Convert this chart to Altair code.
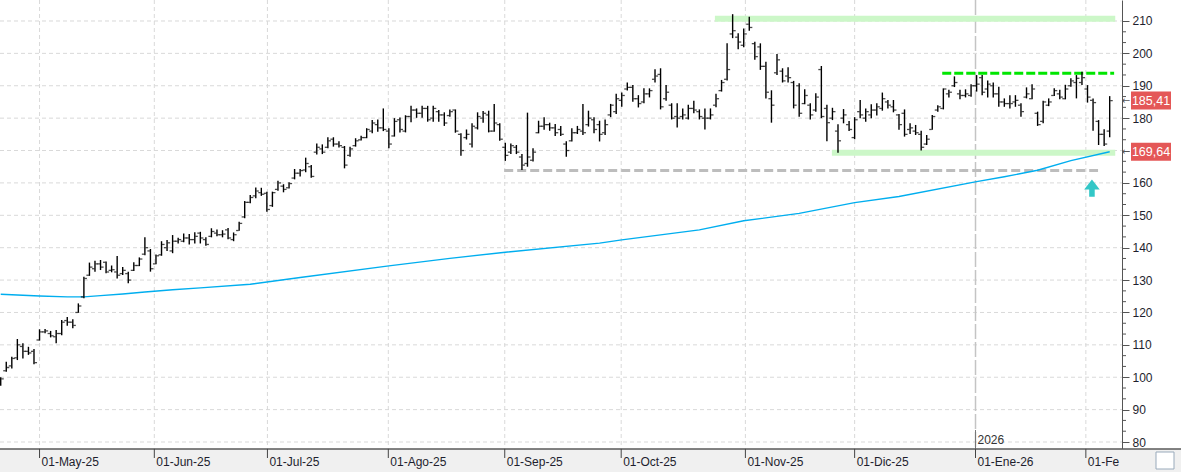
import altair as alt
import pandas as pd

# ---------------- data ----------------
highs = [100.0, 104.8, 106.3, 111.8, 110.5, 109.4, 108.7, 114.8, 114.9, 114.3,
         114.6, 117.7, 118.6, 117.9, 122.8, 131.0, 135.4, 136.0, 136.2, 135.7,
         134.5, 137.4, 134.0, 132.6, 135.5, 137.0, 143.2, 139.6, 137.9, 142.0,
         142.4, 143.9, 143.1, 144.4, 144.2, 144.8, 144.9, 143.2, 146.0, 145.6,
         145.4, 146.1, 144.7, 148.0, 154.4, 156.3, 158.6, 158.5, 157.3, 157.3,
         160.7, 159.6, 160.2, 164.3, 164.3, 167.8, 165.5, 172.2, 171.9, 174.1,
         174.1, 172.9, 171.4, 171.2, 173.8, 174.6, 176.9, 179.4, 179.6, 183.0,
         176.9, 180.0, 180.2, 180.9, 183.8, 183.0, 183.8, 183.8, 183.8, 182.5,
         181.8, 182.7, 182.7, 175.3, 176.5, 178.4, 181.8, 182.2, 182.3, 184.4,
         178.4, 172.4, 172.2, 171.7, 168.9, 181.7, 170.7, 179.2, 180.3, 178.6,
         178.2, 177.6, 172.9, 176.9, 177.6, 184.4, 182.3, 180.3, 179.2, 179.6,
         184.4, 187.5, 187.9, 191.0, 190.2, 187.1, 189.2, 189.2, 195.1, 195.4,
         190.2, 184.6, 184.6, 183.0, 184.1, 185.4, 182.7, 183.0, 183.0, 187.5,
         191.8, 203.1, 212.1, 206.2, 207.7, 211.3, 203.6, 203.1, 197.4, 188.6,
         199.8, 195.4, 195.7, 191.5, 190.8, 188.9, 184.6, 187.7, 196.1, 184.1,
         183.2, 178.1, 182.8, 179.1, 180.3, 185.6, 183.0, 184.3, 184.6, 187.9,
         185.6, 185.6, 181.3, 182.7, 178.4, 177.9, 176.1, 174.8, 181.0, 184.0,
         189.2, 188.8, 192.9, 188.8, 188.9, 190.5, 193.3, 193.3, 191.6, 191.0,
         189.7, 186.1, 187.1, 187.1, 184.6, 189.5, 190.5, 182.0, 185.4, 186.1,
         189.2, 188.8, 190.3, 192.3, 193.3, 194.3, 190.2, 186.1, 179.4, 176.6,
         186.8]
lows = [97.4, 101.7, 102.7, 105.3, 105.8, 106.9, 104.0, 111.3, 113.6, 112.3,
        110.5, 113.0, 115.9, 115.1, 119.9, 124.4, 131.3, 132.6, 133.1, 132.1,
        132.4, 130.5, 131.6, 129.0, 132.8, 134.3, 137.7, 132.6, 134.9, 137.5,
        139.0, 138.3, 141.3, 141.7, 141.0, 141.3, 141.3, 140.6, 143.2, 143.5,
        143.2, 142.6, 142.0, 145.2, 149.1, 153.7, 155.3, 156.0, 151.1, 152.6,
        157.6, 157.1, 158.3, 161.1, 162.0, 163.3, 161.6, 168.8, 168.9, 170.7,
        171.2, 170.9, 164.5, 168.1, 171.2, 173.1, 173.8, 175.3, 175.8, 176.0,
        170.7, 174.3, 175.6, 175.6, 178.7, 180.1, 180.1, 178.9, 178.9, 178.9,
        177.6, 180.4, 175.5, 168.4, 173.4, 170.9, 176.5, 178.6, 175.6, 175.8,
        173.0, 166.8, 168.9, 168.9, 164.0, 165.0, 166.6, 175.3, 176.4, 176.1,
        174.5, 174.5, 168.1, 172.8, 175.1, 174.8, 177.4, 175.3, 172.8, 174.8,
        180.3, 181.3, 183.5, 188.5, 185.1, 183.3, 184.6, 186.4, 191.0, 182.7,
        185.4, 179.6, 177.1, 179.6, 179.6, 181.5, 179.6, 176.5, 179.6, 183.4,
        188.2, 191.6, 204.7, 201.3, 201.9, 207.0, 198.0, 194.9, 186.1, 178.6,
        193.3, 191.0, 191.0, 183.0, 180.4, 184.3, 179.6, 182.0, 180.0, 172.9,
        179.4, 169.3, 178.4, 176.0, 173.5, 180.0, 178.9, 180.0, 180.8, 182.3,
        183.0, 181.8, 176.4, 174.3, 175.1, 174.8, 170.0, 171.7, 176.4, 182.0,
        182.7, 186.4, 189.6, 185.8, 186.4, 186.6, 188.2, 187.1, 186.4, 186.4,
        183.5, 183.5, 183.0, 183.5, 180.4, 186.1, 185.8, 177.6, 178.4, 183.7,
        186.8, 185.8, 185.8, 189.7, 186.1, 190.2, 184.8, 176.1, 171.7, 171.4,
        174.1]
opens = [98.0, 102.0, 103.5, 106.0, 109.5, 108.0, 108.0, 111.5, 114.0, 113.5,
         112.5, 113.5, 117.5, 117.0, 120.0, 124.8, 131.5, 133.5, 135.0, 135.5,
         133.0, 132.5, 132.0, 132.0, 133.0, 134.5, 138.0, 139.0, 135.0, 137.8,
         140.0, 139.0, 142.0, 142.0, 143.0, 142.5, 144.5, 142.5, 143.5, 144.5,
         144.0, 145.5, 142.5, 145.3, 149.5, 154.0, 156.0, 157.0, 156.8, 153.0,
         158.0, 159.0, 158.5, 161.5, 163.0, 164.0, 165.0, 169.5, 170.5, 171.0,
         173.5, 172.0, 171.0, 168.5, 171.5, 173.3, 174.0, 176.0, 178.0, 177.0,
         176.0, 174.5, 179.5, 176.0, 180.5, 182.5, 181.5, 183.0, 180.0, 182.0,
         181.0, 180.8, 182.5, 175.0, 174.0, 172.0, 177.0, 180.0, 181.0, 176.0,
         178.0, 171.0, 169.5, 171.0, 168.0, 166.0, 167.0, 175.5, 177.5, 178.0,
         177.0, 176.5, 172.0, 173.0, 175.5, 176.0, 178.0, 179.5, 178.0, 175.5,
         181.0, 182.0, 185.5, 189.0, 189.5, 186.0, 185.0, 187.5, 192.0, 193.5,
         186.0, 184.0, 180.5, 180.5, 180.0, 183.0, 182.0, 180.0, 180.0, 184.0,
         188.5, 192.0, 206.0, 205.0, 202.5, 209.0, 203.0, 202.0, 196.0, 186.0,
         194.0, 194.5, 193.0, 191.0, 190.0, 184.5, 184.0, 182.5, 195.0, 183.0,
         180.0, 176.0, 180.0, 178.0, 174.0, 182.0, 180.0, 181.0, 182.5, 183.0,
         185.0, 183.5, 181.0, 181.5, 176.5, 176.0, 175.0, 172.0, 176.5, 182.5,
         183.0, 187.5, 190.0, 187.5, 187.0, 187.0, 190.0, 192.5, 189.0, 190.0,
         187.5, 185.0, 184.5, 185.0, 184.0, 186.5, 186.0, 181.5, 179.0, 184.0,
         187.0, 187.5, 186.0, 190.0, 191.0, 191.0, 189.0, 185.5, 179.0, 175.0,
         176.0]
closes = [99.5, 103.0, 105.8, 110.0, 108.0, 107.5, 104.5, 114.0, 114.3, 112.8,
          113.5, 117.0, 117.0, 116.0, 122.0, 130.5, 134.0, 135.0, 134.0, 132.5,
          133.2, 131.5, 133.0, 130.0, 134.5, 136.5, 140.0, 133.5, 137.5, 141.0,
          141.5, 142.0, 142.5, 143.0, 142.5, 143.5, 143.0, 141.0, 145.0, 144.0,
          144.2, 143.0, 144.0, 147.5, 154.0, 155.5, 157.5, 156.5, 151.8, 157.0,
          160.0, 158.0, 159.8, 163.0, 163.8, 166.0, 162.0, 171.0, 169.5, 173.0,
          172.0, 171.5, 165.5, 170.5, 173.0, 174.0, 176.5, 178.5, 177.0, 176.5,
          172.0, 179.0, 176.5, 180.5, 182.5, 181.5, 183.0, 179.5, 183.0, 181.0,
          178.5, 182.0, 176.0, 170.0, 175.0, 177.5, 180.5, 181.5, 176.0, 178.5,
          173.5, 168.5, 171.5, 169.5, 165.5, 168.0, 169.5, 177.5, 178.0, 177.0,
          175.5, 175.0, 170.0, 175.5, 176.5, 175.5, 180.0, 176.5, 175.0, 178.0,
          184.0, 186.0, 187.0, 189.5, 186.0, 184.5, 187.5, 188.5, 193.0, 183.5,
          188.0, 180.0, 180.0, 181.0, 183.0, 182.5, 180.5, 180.0, 181.0, 186.0,
          191.0, 195.0, 207.0, 203.5, 206.0, 208.0, 199.0, 196.0, 188.0, 184.0,
          198.0, 191.5, 192.5, 184.0, 181.5, 187.0, 181.0, 186.5, 180.5, 178.6,
          182.0, 173.0, 181.0, 176.5, 179.5, 181.0, 182.0, 182.5, 183.5, 186.0,
          184.0, 182.5, 178.0, 175.0, 177.0, 175.5, 171.0, 173.5, 180.5, 183.5,
          189.0, 188.0, 191.0, 187.0, 187.5, 190.0, 190.5, 188.0, 190.5, 187.5,
          185.0, 184.5, 184.5, 185.5, 182.0, 187.5, 189.0, 178.0, 185.0, 185.0,
          188.5, 186.5, 189.0, 191.5, 192.3, 192.5, 186.5, 184.8, 175.0, 172.0,
          185.41]

# 200-session moving average, read at selected sessions
ma_idx = [0, 7, 12, 15, 18, 22, 26, 31, 36, 45, 54, 70, 81, 91, 108, 112, 126,
          134, 144, 154, 162, 176, 181, 187, 193, 200]
ma_val = [125.6, 125.1, 124.8, 124.8, 125.2, 125.7, 126.3, 127.0, 127.6, 128.7,
          130.8, 134.4, 136.7, 138.6, 141.4, 142.4, 145.5, 148.3, 150.6, 153.9,
          155.8, 160.4, 161.9, 163.9, 166.9, 169.64]

# month ticks (position in sessions) and labels
month_pos = [7.0, 27.7, 48.1, 69.9, 90.9, 111.9, 134.3, 154.0, 175.8, 195.7]
month_lab = ["01-May-25", "01-Jun-25", "01-Jul-25", "01-Ago-25", "01-Sep-25",
             "01-Oct-25", "01-Nov-25", "01-Dic-25", "01-Ene-26", "01-Fe"]
year_pos = [175.8]
year_lab = ["2026"]

y_ticks = [80, 90, 100, 110, 120, 130, 140, 150, 160, 170, 180, 190, 200, 210]
y_minor = [v + d for v in y_ticks[:-1] for d in (10 / 3, 20 / 3)]
y_hidden_label = 170  # covered by the price box in the reference

# drawn levels: value, start session, end session
band_val = [210.7, 169.3]
band_from = [128.8, 149.9]
band_to = [201.0, 201.0]
gray_level = [163.8]
gray_from = [90.8]
gray_to = [197.9]
green_level = [193.9]
green_from = [169.8]
green_to = [200.8]

arrow_pos = [196.8]
arrow_val = [158.4]

price_val = [185.41, 169.64]
price_txt = ["185,41", "169,64"]

# ---------------- chart ----------------
FONT = "Liberation Sans, Arial, sans-serif"
W, H = 1122, 449
XD = [-0.13, 202.22]
YD = [77.84, 216.48]

Y_AXIS = alt.Axis(orient="right", values=y_ticks, tickSize=7, tickColor="#555",
                  domainColor="#555", domainWidth=1, labelFont=FONT, labelFontSize=12,
                  labelColor="#1e1e2e", labelPadding=3, grid=False, title=None,
                  labelBaseline="middle", labelFlush=False, labelOverlap=False,
                  labelExpr=f"datum.value == {y_hidden_label} ? '' : datum.label")


def X(f):
    return alt.X(f, type="quantitative", scale=alt.Scale(domain=XD, nice=False, zero=False), axis=None)


def Y(f):
    return alt.Y(f, type="quantitative", scale=alt.Scale(domain=YD, nice=False, zero=False), axis=Y_AXIS)


bars = pd.DataFrame({"i": list(range(len(highs))), "high": highs, "low": lows,
                     "open": opens, "close": closes})
ma = pd.DataFrame({"i": ma_idx, "v": ma_val})
months = pd.DataFrame({"p": month_pos, "lab": month_lab})
years = pd.DataFrame({"p": year_pos, "lab": year_lab})
yt = pd.DataFrame({"v": y_ticks})
ym = pd.DataFrame({"v": y_minor})
bands = pd.DataFrame({"v": band_val, "a": band_from, "b": band_to})
gray = pd.DataFrame({"v": gray_level, "a": gray_from, "b": gray_to})
green = pd.DataFrame({"v": green_level, "a": green_from, "b": green_to})
arrow = pd.DataFrame({"p": arrow_pos, "v": arrow_val})
prices = pd.DataFrame({"v": price_val, "t": price_txt})

bottom_band = alt.Chart(pd.DataFrame({"k": [0]})).mark_rect(color="#f0f0f0").encode(
    x=alt.value(0), x2=alt.value(1181), y=alt.value(H), y2=alt.value(472))

hgrid = alt.Chart(yt).mark_rule(color="#d9d9d9", strokeDash=[4, 3], strokeWidth=1).encode(
    x=alt.value(0), x2=alt.value(W), y=Y("v"))

yminor = alt.Chart(ym).mark_rule(color="#555", strokeWidth=1).encode(
    x=alt.value(W), x2=alt.value(W + 4), y=Y("v"))

vgrid = alt.Chart(months.iloc[[0, 1, 2, 3, 4, 5, 6, 7, 9]]).mark_rule(
    color="#d9d9d9", strokeDash=[4, 3], strokeWidth=1).encode(
    x=X("p"), y=alt.value(0), y2=alt.value(H))

year_line = alt.Chart(years).mark_rule(color="#c4c4c4", strokeDash=[15, 3], strokeWidth=1.5).encode(
    x=X("p"), y=alt.value(0), y2=alt.value(H))
year_tick = alt.Chart(years).mark_rule(color="#777", strokeWidth=1).encode(
    x=X("p"), y=alt.value(430), y2=alt.value(H))
year_text = alt.Chart(years).mark_text(align="left", baseline="middle", dx=2, font=FONT,
                                       fontSize=12, color="#333").encode(
    x=X("p"), y=alt.value(440), text="lab:N")

band_layer = alt.Chart(bands).mark_rule(color="#ccf7c8", strokeWidth=6).encode(
    x=X("a"), x2="b", y=Y("v"))
gray_layer = alt.Chart(gray).mark_rule(color="#bdbdbd", strokeWidth=3, strokeDash=[9, 4]).encode(
    x=X("a"), x2="b", y=Y("v"))
green_layer = alt.Chart(green).mark_rule(color="#00e600", strokeWidth=3, strokeDash=[9, 3]).encode(
    x=X("a"), x2="b", y=Y("v"))

ma_line = alt.Chart(ma).mark_line(color="#00aeef", strokeWidth=1.4, interpolate="linear").encode(
    x=X("i"), y=Y("v"))

hl = alt.Chart(bars).mark_rule(color="black", strokeWidth=1.4).encode(
    x=X("i"), y=Y("low"), y2="high")
op = alt.Chart(bars).mark_tick(color="black", orient="horizontal", size=2.5, thickness=1.3,
                               xOffset=-1.8).encode(x=X("i"), y=Y("open"))
cl = alt.Chart(bars).mark_tick(color="black", orient="horizontal", size=2.5, thickness=1.3,
                               xOffset=1.8).encode(x=X("i"), y=Y("close"))

arrow_shape = "M0,-1 L0.9,0.15 L0.32,0.15 L0.32,1 L-0.32,1 L-0.32,0.15 L-0.9,0.15 Z"
arrow_layer = alt.Chart(arrow).mark_point(shape=arrow_shape, filled=True, size=300,
                                          color="#33c7c7", opacity=1, strokeWidth=0).encode(
    x=X("p"), y=Y("v"))

axis_line = alt.Chart(pd.DataFrame({"k": [0]})).mark_rule(color="#5a5a5a", strokeWidth=1.5).encode(
    x=alt.value(0), x2=alt.value(1181), y=alt.value(H))
xticks = alt.Chart(months).mark_rule(color="#444", strokeWidth=1).encode(
    x=X("p"), y=alt.value(H), y2=alt.value(H + 9))
xlabels = alt.Chart(months).mark_text(align="left", baseline="middle", dx=2, font=FONT,
                                      fontSize=12, color="#1e1e2e").encode(
    x=X("p"), y=alt.value(462), text="lab:N")

box_shape = "M-1,-0.45 L1,-0.45 L1,0.45 L-1,0.45 Z"
price_box = alt.Chart(prices).mark_point(shape=box_shape, filled=True, size=1600,
                                         color="#e45757", opacity=1, strokeWidth=0).encode(
    x=alt.value(1151), y=Y("v"))
price_text = alt.Chart(prices).mark_text(align="center", baseline="middle", font=FONT,
                                         fontSize=12.5, color="white").encode(
    x=alt.value(1151), y=Y("v"), text="t:N")
price_arrow = alt.Chart(prices).mark_text(align="center", baseline="middle", font="DejaVu Sans",
                                          fontSize=10, color="#555").encode(
    x=alt.value(1126), y=Y("v"), text=alt.value("←"))

icon = alt.Chart(pd.DataFrame({"k": [0]})).mark_rect(fill="white", stroke="#9ab", strokeWidth=1).encode(
    x=alt.value(1156), x2=alt.value(1174), y=alt.value(452), y2=alt.value(469))

chart = alt.layer(
    bottom_band, hgrid, vgrid, year_line, year_tick, year_text,
    band_layer, gray_layer, green_layer, ma_line, hl, op, cl, arrow_layer,
    axis_line, xticks, xlabels, yminor, price_box, price_text, price_arrow, icon
).properties(
    width=W, height=H,
    padding={"left": 0, "top": 0, "right": 59, "bottom": 23},
    autosize=alt.AutoSizeParams(type="none"),
    background="white",
).configure_view(stroke=None)

chart.save("out.html", embed_options={"renderer": "svg", "actions": False})
